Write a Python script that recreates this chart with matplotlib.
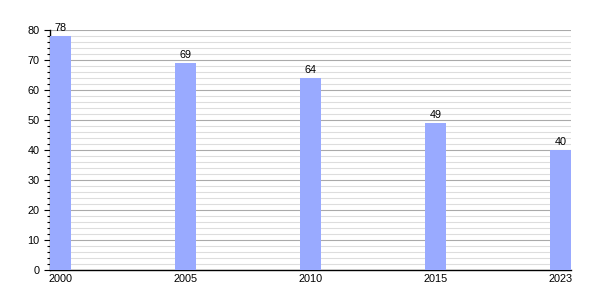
import matplotlib
matplotlib.use("Agg")
import matplotlib.pyplot as plt
from matplotlib.ticker import MultipleLocator

years = ["2000", "2005", "2010", "2015", "2023"]
values = [78, 69, 64, 49, 40]

plt.rcParams['font.family'] = ['Liberation Sans', 'DejaVu Sans']

fig = plt.figure(figsize=(6, 3), dpi=100)
ax = fig.add_axes([0.083, 0.1, 0.869, 0.8])

w = 0.168
x = list(range(len(years)))
bars = ax.bar(x, values, width=w, color="#99aaff", zorder=3)
for b, v in zip(bars, values):
    ax.text(b.get_x() + b.get_width() / 2, v + 1.0, str(v),
            ha="center", va="bottom", fontsize=7.8, zorder=4)

ax.set_xlim(-w / 2, len(years) - 1 + w / 2)
ax.set_ylim(0, 80)
ax.set_xticks(x)
ax.set_xticklabels(years)
ax.yaxis.set_major_locator(MultipleLocator(10))
ax.yaxis.set_minor_locator(MultipleLocator(2))
ax.grid(which="major", axis="y", color="#aaaaaa", linewidth=0.8, zorder=1)
ax.grid(which="minor", axis="y", color="#dddddd", linewidth=0.8, zorder=0)

for s in ["top", "right"]:
    ax.spines[s].set_visible(False)
ax.spines["left"].set_linewidth(1)
ax.spines["bottom"].set_linewidth(1)
ax.tick_params(axis="x", length=0, labelsize=7.8, pad=3)
ax.tick_params(axis="y", which="major", length=4, width=0.8, labelsize=7.8)
ax.tick_params(axis="y", which="minor", length=2, width=0.8)

fig.savefig("out.png", dpi=100)
